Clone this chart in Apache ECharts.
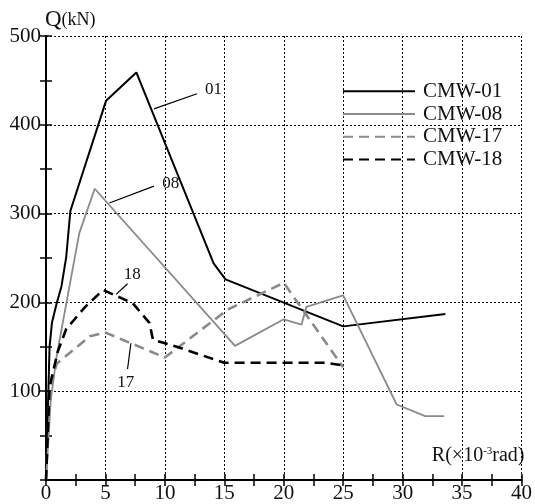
<!DOCTYPE html>
<html>
<head>
<meta charset="utf-8">
<script src="https://cdn.jsdelivr.net/npm/echarts@6/dist/echarts.min.js"></script>
<style>
  html, body { margin: 0; padding: 0; background: #fff; }
  #chart { width: 535px; height: 504px; }
</style>
</head>
<body>
<div id="chart"></div>
<script>
// 各试件的 Q-R 骨架曲线 [R(×10^-3 rad), Q(kN)]
var cmw01 = [[0, 0], [0.3, 150], [0.5, 177], [0.9, 199], [1.3, 218], [1.7, 251], [2.05, 303],
  [5.05, 427], [7.6, 459], [14.1, 244], [15.1, 226], [25, 173], [33.6, 187]];
var cmw08 = [[0, 0], [0.4, 90], [0.9, 140], [2.8, 278], [4.1, 328], [15.9, 151], [20, 181],
  [21.5, 175], [21.9, 195], [25, 208], [29.5, 85], [31.9, 72], [33.5, 72]];
var cmw17 = [[0, 0], [0.3, 100], [0.9, 131], [3.7, 162], [5, 166], [10, 138], [15.3, 192],
  [20, 222], [25, 127]];
var cmw18 = [[0, 0], [0.3, 105], [1, 145], [1.7, 170], [3.3, 195], [4.8, 214], [7.3, 199],
  [8.7, 177], [9, 158], [11, 150], [15, 132], [23.5, 132], [25, 129]];

var seriesNames = ["CMW-01", "CMW-08", "CMW-17", "CMW-18"];

// 图中的编号标注：文字、文字位置、引线两端
var noteTexts = ["01", "08", "18", "17"];
var notePos = [[14.1, 440], [10.5, 334], [7.25, 231], [6.7, 110]];
var noteFrom = [[9.08, 418], [5.33, 312], [5.9, 209], [7.14, 154]];
var noteTo = [[12.7, 435], [9.08, 331], [6.86, 221], [6.86, 125]];

var FONT = "Liberation Serif";
var chart = echarts.init(document.getElementById("chart"));

function frameAxis(pos) {
  return {
    type: "value",
    position: pos,
    min: 0,
    max: pos == "top" ? 40 : 500,
    interval: pos == "top" ? 5 : 100,
    axisLine: { show: true, lineStyle: { color: "#000", width: 2 } },
    axisTick: { show: true, inside: true, length: 6, lineStyle: { color: "#000", width: 1.5 } },
    minorTick: { show: true, splitNumber: 2, length: 6, lineStyle: { color: "#000", width: 1.5 } },
    axisLabel: { show: false },
    splitLine: { show: false }
  };
}

var option = {
  backgroundColor: "#fff",
  animation: false,
  grid: { left: 46, right: 9, top: 36, bottom: 18 },
  legend: {
    data: seriesNames,
    orient: "vertical",
    left: 342,
    top: 80,
    padding: 0,
    itemWidth: 72,
    itemHeight: 14,
    itemGap: 0,
    itemStyle: { opacity: 0 },
    textStyle: { fontFamily: FONT, fontSize: 21, color: "#111", lineHeight: 22.7, padding: [0, 0, 0, 3] }
  },
  xAxis: [{
    type: "value",
    min: 0,
    max: 40,
    interval: 5,
    name: "R(×10{sup|-3}rad)",
    nameLocation: "end",
    nameGap: 3,
    nameTextStyle: {
      fontFamily: FONT, fontSize: 20, color: "#111",
      align: "right", verticalAlign: "bottom", padding: [0, 0, 14, 0],
      rich: { sup: { fontFamily: FONT, fontSize: 11, verticalAlign: "top", padding: [0, 0, 8, 0] } }
    },
    axisLine: { show: true, lineStyle: { color: "#000", width: 2 } },
    axisTick: { show: true, inside: true, length: 6, lineStyle: { color: "#000", width: 1.5 } },
    minorTick: { show: true, splitNumber: 2, length: 6, lineStyle: { color: "#000", width: 1.5 } },
    axisLabel: { margin: 3, fontFamily: FONT, fontSize: 21, color: "#111" },
    splitLine: { show: true, lineStyle: { color: "#000", width: 1, type: [2, 2] } }
  }, frameAxis("top")],
  yAxis: [{
    type: "value",
    min: 0,
    max: 500,
    interval: 100,
    axisLine: { show: true, lineStyle: { color: "#000", width: 2 } },
    axisTick: { show: true, inside: true, length: 6, lineStyle: { color: "#000", width: 1.5 } },
    minorTick: { show: true, splitNumber: 2, length: 6, lineStyle: { color: "#000", width: 1.5 } },
    axisLabel: {
      margin: 5, fontFamily: FONT, fontSize: 21, color: "#111",
      formatter: function (v) { return v === 0 ? "" : v; }
    },
    splitLine: { show: true, lineStyle: { color: "#000", width: 1, type: [2, 2] } }
  }, frameAxis("right")],
  series: [
    {
      name: "CMW-01", type: "line", data: cmw01, symbol: "none",
      lineStyle: { color: "#000", width: 2 }, itemStyle: { color: "#000" }
    },
    {
      name: "CMW-08", type: "line", data: cmw08, symbol: "none",
      lineStyle: { color: "#8a8a8a", width: 1.8 }, itemStyle: { color: "#8a8a8a" }
    },
    {
      name: "CMW-17", type: "line", data: cmw17, symbol: "none",
      lineStyle: { color: "#8a8a8a", width: 2.6, type: [10, 6] }, itemStyle: { color: "#8a8a8a" }
    },
    {
      name: "CMW-18", type: "line", data: cmw18, symbol: "none",
      lineStyle: { color: "#000", width: 2.6, type: [10, 6] }, itemStyle: { color: "#000" }
    }
  ]
};

chart.setOption(option);

// 编号标注与引线
var toPx = function (p) {
  return chart.convertToPixel({ xAxisIndex: 0, yAxisIndex: 0 }, p);
};
var graphics = [];
for (var i = 0; i < noteTexts.length; i++) {
  var a = toPx(noteFrom[i]);
  var b = toPx(noteTo[i]);
  var t = toPx(notePos[i]);
  graphics.push({
    type: "line",
    shape: { x1: a[0], y1: a[1], x2: b[0], y2: b[1] },
    style: { stroke: "#000", lineWidth: 1.2 }
  });
  graphics.push({
    type: "text",
    x: t[0],
    y: t[1],
    style: {
      text: noteTexts[i], fontFamily: FONT, fontSize: 17, fill: "#111",
      align: "center", verticalAlign: "middle"
    }
  });
}
// 纵轴名称 Q(kN)
var yTop = toPx([0, 500]);
graphics.push({
  type: "text",
  x: yTop[0] - 1,
  y: yTop[1] - 16,
  style: {
    text: "Q{kn|(kN)}", fontFamily: FONT, fontSize: 23, fill: "#111",
    align: "left", verticalAlign: "middle",
    rich: { kn: { fontFamily: FONT, fontSize: 18, fill: "#111" } }
  }
});
chart.setOption({ graphic: graphics });
</script>
</body>
</html>
